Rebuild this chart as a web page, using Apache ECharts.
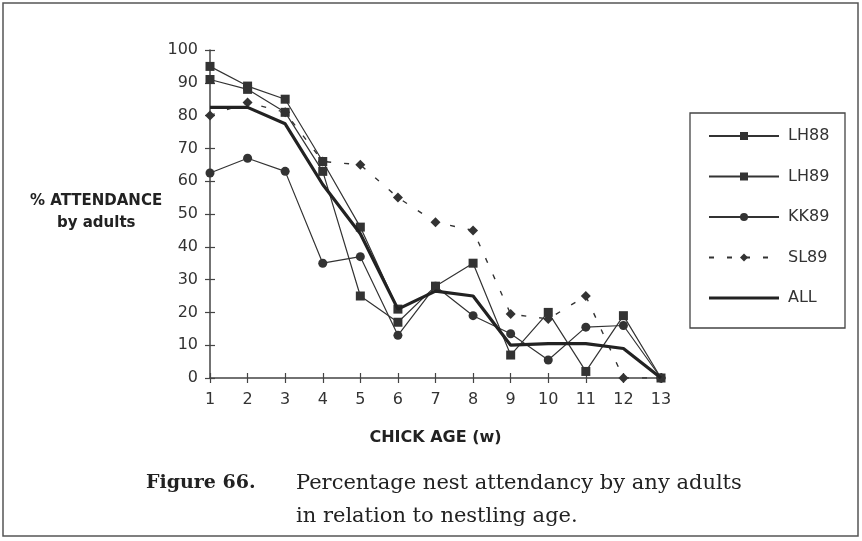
<!DOCTYPE html>
<html><head><meta charset="utf-8">
<script src="https://cdn.jsdelivr.net/npm/echarts@6/dist/echarts.min.js"></script>
<style>html,body{margin:0;padding:0;background:#fff}#c{width:862px;height:541px}</style>
</head><body><div id="c"></div>
<script>
const weeks = [1,2,3,4,5,6,7,8,9,10,11,12,13];
const yTicks = [0,10,20,30,40,50,60,70,80,90,100];
const LH88 = [95, 89, 85, 66, 46, 21, null, null, null, null, null, null, null];
const LH89 = [91, 88, 81, 63, 25, 17, 28, 35, 7, 20, 2, 19, 0];
const KK89 = [62.5, 67, 63, 35, 37, 13, 28, 19, 13.5, 5.5, 15.5, 16, 0];
const SL89 = [80, 84, 81, 66, 65, 55, 47.5, 45, 19.5, 18, 25, 0, 0];
const ALL  = [82.5, 82.5, 77.5, 59, 44, 21, 26.5, 25, 10, 10.5, 10.5, 9, 0];
const seriesNames = ['LH88','LH89','KK89','SL89','ALL'];

const ink = '#333';
function pts(arr){ return weeks.map((w,i)=>[w, arr[i]]); }
const chart = echarts.init(document.getElementById('c'));
const axFont = {fontFamily:'DejaVu Sans', fontSize:16, color:'#333'};
const allIcon = 'path://M0,0L0.01,0L0.01,0.01ZM0,3.4L70,3.4L70,6.6L0,6.6ZM0,9.99L0.01,9.99L0.01,10Z';
chart.setOption({
  animation:false,
  backgroundColor:'#fff',
  grid:{left:210, right:201, top:50, bottom:163},
  xAxis:[{
    type:'value', min:1, max:13, interval:1,
    axisLine:{lineStyle:{color:'#444', width:1.5}},
    axisTick:{length:5, lineStyle:{color:'#444', width:1.2}},
    axisLabel:Object.assign({margin:14}, axFont),
    splitLine:{show:false},
    name:'CHICK AGE (w)', nameLocation:'middle', nameGap:52,
    nameTextStyle:{fontFamily:'DejaVu Sans', fontSize:16, fontWeight:'bold', color:'#222'}
  },{
    type:'value', min:1, max:13, interval:1, position:'bottom',
    axisLine:{show:false}, axisLabel:{show:false}, splitLine:{show:false},
    axisTick:{inside:true, length:5, lineStyle:{color:'#444', width:1.2}}
  }],
  yAxis:[{
    type:'value', min:0, max:100, interval:10,
    axisLine:{show:true, lineStyle:{color:'#444', width:1.5}},
    axisTick:{show:true, length:5, lineStyle:{color:'#444', width:1.2}},
    axisLabel:Object.assign({margin:12}, axFont),
    splitLine:{show:false}
  },{
    type:'value', min:0, max:100, interval:10, position:'left',
    axisLine:{show:false}, axisLabel:{show:false}, splitLine:{show:false},
    axisTick:{show:true, inside:true, length:5, lineStyle:{color:'#444', width:1.2}}
  }],
  legend:{
    orient:'vertical', left:703, top:123, itemGap:24.5,
    itemWidth:70, itemHeight:10,
    data:['LH88','LH89','KK89','SL89',{name:'ALL', icon:allIcon}],
    textStyle:{fontFamily:'DejaVu Sans', fontSize:16, color:'#333', padding:[0,0,0,4]}
  },
  series:[
    {name:'LH88', type:'line', data:pts(LH88), symbol:'rect', symbolSize:9,
     itemStyle:{color:ink}, lineStyle:{color:ink, width:1.2}, z:3},
    {name:'LH89', type:'line', data:pts(LH89), symbol:'rect', symbolSize:9,
     itemStyle:{color:ink}, lineStyle:{color:ink, width:1.2}, z:3},
    {name:'KK89', type:'line', data:pts(KK89), symbol:'circle', symbolSize:9,
     itemStyle:{color:ink}, lineStyle:{color:ink, width:1.2}, z:3},
    {name:'SL89', type:'line', data:pts(SL89), symbol:'diamond', symbolSize:10,
     itemStyle:{color:ink}, lineStyle:{color:ink, width:1.4, type:[5,13]}, z:3},
    {name:'ALL', type:'line', data:pts(ALL), symbol:'none', showSymbol:false,
     itemStyle:{color:'#222'}, lineStyle:{color:'#222', width:3.2}, z:4}
  ],
  graphic:[
    {type:'rect', shape:{x:3, y:3, width:855, height:533}, style:{fill:'none', stroke:'#555', lineWidth:1.5}, silent:true},
    {type:'rect', shape:{x:690, y:113, width:155, height:215}, style:{fill:'none', stroke:'#444', lineWidth:1.3}, silent:true},
    {type:'text', left:30, top:194, style:{text:'% ATTENDANCE', font:'bold 15px "DejaVu Sans"', fill:'#222'}},
    {type:'text', left:57, top:216, style:{text:'by adults', font:'bold 15px "DejaVu Sans"', fill:'#222'}},
    {type:'text', left:146, top:474, style:{text:'Figure 66.', font:'bold 19px "DejaVu Serif"', fill:'#222'}},
    {type:'text', left:296, top:473, style:{text:'Percentage nest attendancy by any adults', font:'21px "DejaVu Serif"', fill:'#222'}},
    {type:'text', left:296, top:506, style:{text:'in relation to nestling age.', font:'21px "DejaVu Serif"', fill:'#222'}}
  ]
});
</script></body></html>
